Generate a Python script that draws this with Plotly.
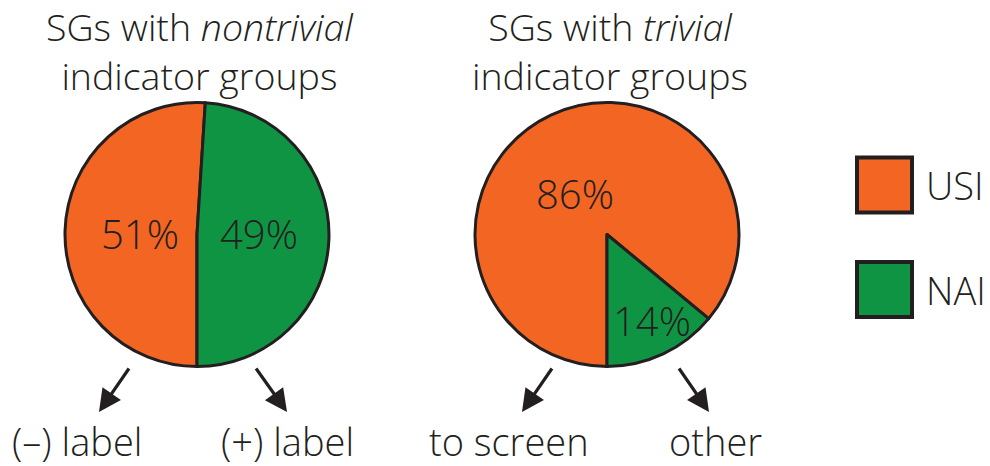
import plotly.graph_objects as go

# Shares of each indicator type within the two SG groups
groups = ["SGs with <i>nontrivial</i><br>indicator groups", "SGs with <i>trivial</i><br>indicator groups"]
categories = ["USI", "NAI"]
nontrivial_values = [51, 49]
trivial_values = [86, 14]
outcome_labels = [["(\u2013) label", "(+) label"], ["to screen", "other"]]

colors = {"USI": "#F26522", "NAI": "#0F9444"}
ink = "#231F20"
font_family = "'Open Sans', Lato, sans-serif"
weight = 300

W, H = 990, 466


def px(x):
    return x / W


def py(y):
    return 1 - y / H


fig = go.Figure()

# pie centres / radius in pixels
centers = [(197, 234.5), (607, 234.5)]
radius = 132
# where each slice's percentage is written
pct_pos = [[(140, 233), (259, 233)], [(575, 193), (652, 320)]]

annotations = []

for (cx, cy), vals, pos in zip(centers, [nontrivial_values, trivial_values], pct_pos):
    fig.add_trace(go.Pie(
        labels=categories,
        values=vals,
        sort=False,
        direction="clockwise",
        rotation=180,
        marker=dict(colors=[colors[c] for c in categories], line=dict(color=ink, width=3)),
        textposition="none",
        hoverinfo="label+percent",
        showlegend=False,
        domain=dict(x=[px(cx - radius), px(cx + radius)], y=[py(cy + radius), py(cy - radius)]),
    ))
    total = sum(vals)
    for v, (tx, ty) in zip(vals, pos):
        annotations.append(dict(
            x=px(tx), y=py(ty), xref="paper", yref="paper", xanchor="center", yanchor="middle",
            text=f"{round(100 * v / total)}%", showarrow=False,
            font=dict(family=font_family, size=40, color=ink, weight=weight),
        ))

# group titles
for (cx, cy), title in zip(centers, groups):
    annotations.append(dict(
        x=px(cx + 3), y=1, xref="paper", yref="paper", xanchor="center", yanchor="top",
        text=title, showarrow=False, align="center", borderpad=0,
        font=dict(family=font_family, size=37.5, color=ink, weight=weight),
    ))

# arrows pointing from each pie to its outcome labels
arrow_geom = [
    [((130, 367), (99, 412)), ((255, 367), (287, 412))],
    [((553, 367), (522, 412)), ((678, 367), (709, 412))],
]
label_x = [[77, 287], [509, 715]]
for pie_arrows, pie_labels, pie_lx in zip(arrow_geom, outcome_labels, label_x):
    for (tail, tip), lab, lx in zip(pie_arrows, pie_labels, pie_lx):
        annotations.append(dict(
            x=px(tip[0]), y=py(tip[1]), xref="paper", yref="paper",
            ax=tail[0] - tip[0], ay=tail[1] - tip[1], axref="pixel", ayref="pixel",
            text="", showarrow=True, arrowhead=2, arrowsize=1.4, arrowwidth=3.2,
            arrowcolor=ink,
        ))
        annotations.append(dict(
            x=px(lx), y=py(441), xref="paper", yref="paper", xanchor="center", yanchor="middle",
            text=lab, showarrow=False,
            font=dict(family=font_family, size=38, color=ink, weight=weight),
        ))

# legend swatches
shapes = []
legend_y = [185, 289.5]
for cat, ly in zip(categories, legend_y):
    shapes.append(dict(
        type="rect", xref="paper", yref="paper",
        x0=px(857), x1=px(912), y0=py(ly + 27.5), y1=py(ly - 27.5),
        fillcolor=colors[cat], line=dict(color=ink, width=4),
    ))
    annotations.append(dict(
        x=px(924), y=py(ly), xref="paper", yref="paper", xanchor="left", yanchor="middle",
        text=cat, showarrow=False,
        font=dict(family=font_family, size=38, color=ink, weight=weight),
    ))

fig.update_layout(
    width=W, height=H,
    margin=dict(l=0, r=0, t=0, b=0),
    paper_bgcolor="white", plot_bgcolor="white",
    annotations=annotations, shapes=shapes,
    showlegend=False,
)

fig.write_html("out.html")
